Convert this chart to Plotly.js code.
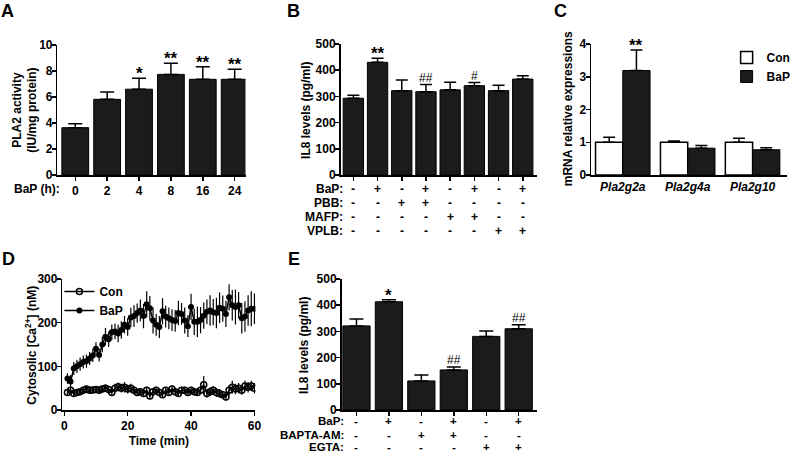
<!DOCTYPE html>
<html><head><meta charset="utf-8">
<script src="https://cdn.plot.ly/plotly-3.0.1.min.js"></script>
<style>html,body{margin:0;padding:0;background:#fff}#chart{width:796px;height:455px}</style>
</head><body><div id="chart"></div>
<script>
// ---------- Panel A ----------
const aCategories = ['0','2','4','8','16','24'];
const aMeans  = [3.64, 5.82, 6.6, 7.74, 7.36, 7.36];
const aErrors = [0.31, 0.56, 0.84, 0.86, 0.97, 0.77];
const aMarks  = ['', '', '*', '**', '**', '**'];

// ---------- Panel B ----------
const bCategories = ['g1','g2','g3','g4','g5','g6','g7','g8'];
const bMeans  = [293, 430, 322, 318, 325, 341, 322, 366];
const bErrors = [11, 16, 41, 27, 29, 12, 21, 13];
const bMarks  = ['', '**', '', '##', '', '#', '', ''];
const bRowLabels = ['BaP:', 'PBB:', 'MAFP:', 'VPLB:'];
const bBaP  = ['-','+','-','+','-','+','-','+'];
const bPBB  = ['-','-','+','+','-','-','-','-'];
const bMAFP = ['-','-','-','-','+','+','-','-'];
const bVPLB = ['-','-','-','-','-','-','+','+'];

// ---------- Panel C ----------
const cGenes = ['Pla2g2a','Pla2g4a','Pla2g10'];
const cConMeans  = [1.0, 1.0, 1.0];
const cConErrors = [0.15, 0.04, 0.12];
const cBaPMeans  = [3.19, 0.82, 0.77];
const cBaPErrors = [0.63, 0.08, 0.06];
const cMarks = ['**', '', ''];

// ---------- Panel D ----------
const dTime = [1,2,3,4,5,6,7,8,9,10,11,12,13,14,15,16,17,18,19,20,21,22,23,24,25,26,27,28,29,30,
               31,32,33,34,35,36,37,38,39,40,41,42,43,44,45,46,47,48,49,50,51,52,53,54,55,56,57,58,59,60];
const dCon = [40,45,38,40,42,45,48,45,46,47,45,48,50,47,40,50,53,50,52,48,50,45,40,42,38,45,32,42,45,40,
              35,45,40,48,42,38,45,45,40,45,42,40,45,58,38,42,45,40,38,35,30,45,52,48,50,45,55,52,55,50];
const dConErr = [8,8,6,6,6,7,8,8,8,8,8,8,9,8,8,10,10,10,12,10,10,8,8,8,8,8,8,8,8,8,
                 8,8,8,8,8,8,8,8,8,8,8,8,8,20,10,10,10,10,10,8,8,12,15,12,12,10,12,12,12,12];
const dBaP = [72,65,95,100,105,110,112,118,125,140,126,150,168,162,178,180,175,183,195,190,
              212,215,222,228,215,242,233,205,195,190,226,214,210,206,204,222,220,205,192,236,
              202,202,206,216,225,228,224,222,234,232,220,258,240,236,240,210,214,228,232,232];
const dBaPErr = [12,15,15,15,15,15,15,15,15,15,15,18,20,18,18,18,20,20,20,20,
                 22,25,22,25,28,30,28,30,25,25,30,25,25,25,25,28,25,30,25,30,
                 30,35,30,30,28,35,30,35,35,30,30,30,35,40,30,35,35,35,40,35];

// ---------- Panel E ----------
const eCategories = ['e1','e2','e3','e4','e5','e6'];
const eMeans  = [321, 413, 111, 153, 281, 310];
const eErrors = [26, 8, 23, 11, 21, 15];
const eMarks  = ['', '*', '', '##', '', '##'];
const eRowLabels = ['BaP:', 'BAPTA-AM:', 'EGTA:'];
const eBaP   = ['-','+','-','+','-','+'];
const eBAPTA = ['-','-','+','+','-','-'];
const eEGTA  = ['-','-','-','-','+','+'];

// ---------- helpers ----------
const W = 796, H = 455;
const px = v => v / W;
const py = v => 1 - v / H;
const FONT = 'Liberation Sans, Arial, Helvetica, sans-serif';
const BAR = '#1b1b1b';
const zeros = n => new Array(n).fill(0);
const boldFont = (s, w, st) => ({family: FONT, size: s, weight: w || 'bold', style: st || 'normal', color: '#000'});

function yAxisCfg(dom, range, dtick, anchor) {
  return {
    domain: [py(dom[1]), py(dom[0])], range: range, dtick: dtick, tick0: 0, anchor: anchor,
    showline: true, linecolor: '#000', linewidth: 1.5, ticks: 'outside', ticklen: 4,
    tickwidth: 1.5, tickcolor: '#000', showgrid: false, zeroline: false,
    ticklabelstandoff: -3,
    tickfont: boldFont(12), fixedrange: true
  };
}
function xAxisCfg(dom, range, anchor, extra) {
  return Object.assign({
    domain: [px(dom[0]), px(dom[1])], range: range, anchor: anchor,
    showline: true, linecolor: '#000', linewidth: 1.5, ticks: 'outside', ticklen: 4,
    tickwidth: 1.5, tickcolor: '#000', showgrid: false, zeroline: false,
    tickfont: boldFont(12), fixedrange: true
  }, extra || {});
}
function barTrace(x, y, err, xa, ya, capw, fill, name, legend) {
  return {
    type: 'bar', x: x, y: y, xaxis: xa, yaxis: ya, name: name || '',
    showlegend: !!legend, legend: legend || 'legend',
    marker: {color: fill || BAR, line: {color: '#000', width: fill === '#fff' ? 1.5 : 1}},
    error_y: {type: 'data', symmetric: false, array: err, arrayminus: zeros(err.length),
              color: '#000', thickness: 1.5, width: capw},
    hoverinfo: 'skip'
  };
}

const data = [];
data.push(barTrace(aCategories, aMeans, aErrors, 'x', 'y', 7));
data.push(barTrace(bCategories, bMeans, bErrors, 'x2', 'y2', 6));
data.push(barTrace(cGenes, cConMeans, cConErrors, 'x3', 'y3', 6, '#fff', 'Con', 'legend'));
data.push(barTrace(cGenes, cBaPMeans, cBaPErrors, 'x3', 'y3', 6, BAR, 'BaP', 'legend'));
data.push({
  type: 'scatter', mode: 'lines+markers', x: dTime, y: dCon, xaxis: 'x4', yaxis: 'y4',
  name: 'Con', legend: 'legend2',
  line: {color: '#000', width: 1.5},
  marker: {symbol: 'circle-open', size: 6, color: '#000', line: {width: 1.5}},
  error_y: {type: 'data', array: dConErr, color: '#000', thickness: 1.2, width: 0},
  hoverinfo: 'skip'
});
data.push({
  type: 'scatter', mode: 'lines+markers', x: dTime, y: dBaP, xaxis: 'x4', yaxis: 'y4',
  name: 'BaP', legend: 'legend2',
  line: {color: '#000', width: 1.5},
  marker: {symbol: 'circle', size: 6, color: '#000'},
  error_y: {type: 'data', array: dBaPErr, color: '#000', thickness: 1.2, width: 0},
  hoverinfo: 'skip'
});
data.push(barTrace(eCategories, eMeans, eErrors, 'x5', 'y5', 7));

// ---------- annotations ----------
const ann = [];
[['A', 8, 11], ['B', 296, 11], ['C', 566, 11], ['D', 9, 259], ['E', 297, 259]].forEach(l => {
  ann.push({text: l[0], xref: 'paper', yref: 'paper', x: px(l[1]), y: py(l[2]),
            xanchor: 'center', yanchor: 'middle', showarrow: false, font: boldFont(18)});
});
// y-axis titles
[['PLA2 activity<br>(IU/mg protein)', 25, 110],
 ['IL8 levels (pg/ml)', 309, 110],
 ['mRNA relative expressions', 574, 109],
 ['Cytosolic [Ca<sup>2+</sup>] (nM)', 31, 345],
 ['IL8 levels (pg/ml)', 307, 345]].forEach(t => {
  ann.push({text: t[0], xref: 'paper', yref: 'paper', x: px(t[1]), y: py(t[2]), textangle: -90,
            xanchor: 'center', yanchor: 'middle', showarrow: false, borderpad: 0, font: boldFont(12)});
});
function markAnn(means, errs, marks, xa, ya, xshift) {
  marks.forEach((m, i) => {
    if (!m) return;
    const hash = m.indexOf('#') >= 0;
    ann.push({text: m, xref: xa, yref: ya, x: i, y: means[i] + errs[i],
              xanchor: 'center', yanchor: 'bottom', showarrow: false, xshift: xshift || 0,
              yshift: hash ? -2 : -7,
              font: boldFont(hash ? 12 : 17, hash ? 'normal' : 'bold')});
  });
}
markAnn(aMeans, aErrors, aMarks, 'x', 'y');
markAnn(bMeans, bErrors, bMarks, 'x2', 'y2');
markAnn(cBaPMeans, cBaPErrors, cMarks, 'x3', 'y3', 13);
markAnn(eMeans, eErrors, eMarks, 'x5', 'y5');

ann.push({text: 'BaP (h):', xref: 'paper', yref: 'paper', x: px(62), y: py(189),
          xanchor: 'right', yanchor: 'middle', showarrow: false, borderpad: 0, font: boldFont(12)});
function rowAnn(rows, labels, rowY, xa, labelX, fs) {
  rows.forEach((r, j) => {
    ann.push({text: labels[j], xref: 'paper', yref: 'paper', x: px(labelX), y: py(rowY[j]),
              xanchor: 'right', yanchor: 'middle', showarrow: false, borderpad: 0, font: boldFont(fs)});
    r.forEach((s, i) => {
      ann.push({text: s, xref: xa, yref: 'paper', x: i, y: py(rowY[j]),
                xanchor: 'center', yanchor: 'middle', showarrow: false, borderpad: 0, font: boldFont(fs)});
    });
  });
}
rowAnn([bBaP, bPBB, bMAFP, bVPLB], bRowLabels, [189, 203, 217, 231], 'x2', 347, 12);
rowAnn([eBaP, eBAPTA, eEGTA], eRowLabels, [421, 434.5, 447], 'x5', 348, 11.5);

const layout = {
  width: W, height: H, margin: {l: 0, r: 0, t: 0, b: 0},
  paper_bgcolor: '#fff', plot_bgcolor: 'rgba(0,0,0,0)',
  font: {family: FONT, size: 12, color: '#000', weight: 'bold'},
  barmode: 'group', bargap: 0.16,
  showlegend: true,
  xaxis: xAxisCfg([58, 248], [-0.56, 5.34], 'y', {type: 'category'}),
  yaxis: yAxisCfg([45, 175], [0, 10], 2, 'x'),
  xaxis2: xAxisCfg([344, 542], [-0.53, 7.57], 'y2', {type: 'category', showticklabels: false}),
  yaxis2: yAxisCfg([44, 175], [0, 500], 100, 'x2'),
  xaxis3: xAxisCfg([597, 795], [-0.49, 2.53], 'y3', {type: 'category', ticks: '',
          tickfont: boldFont(12, 'bold', 'italic')}),
  yaxis3: yAxisCfg([44, 175], [0, 4], 1, 'x3'),
  xaxis4: xAxisCfg([63, 258], [-0.6, 60.3], 'y4', {dtick: 20, tick0: 0,
          title: {text: 'Time (min)', standoff: 4, font: boldFont(12)}}),
  yaxis4: yAxisCfg([279, 410], [0, 300], 100, 'x4'),
  xaxis5: xAxisCfg([345, 542], [-0.46, 5.55], 'y5', {type: 'category', showticklabels: false}),
  yaxis5: yAxisCfg([279, 410], [0, 500], 100, 'x5'),
  legend: {x: px(734), y: py(43), xanchor: 'left', yanchor: 'top', bgcolor: 'rgba(0,0,0,0)',
           font: boldFont(12), itemwidth: 30, tracegroupgap: 0, traceorder: 'normal'},
  legend2: {x: px(60), y: py(277), xanchor: 'left', yanchor: 'top', bgcolor: 'rgba(0,0,0,0)',
            font: boldFont(12), itemwidth: 30, tracegroupgap: 0, traceorder: 'normal'},
  annotations: ann
};

Plotly.newPlot('chart', data, layout, {staticPlot: true, displayModeBar: false});
</script>
</body></html>
